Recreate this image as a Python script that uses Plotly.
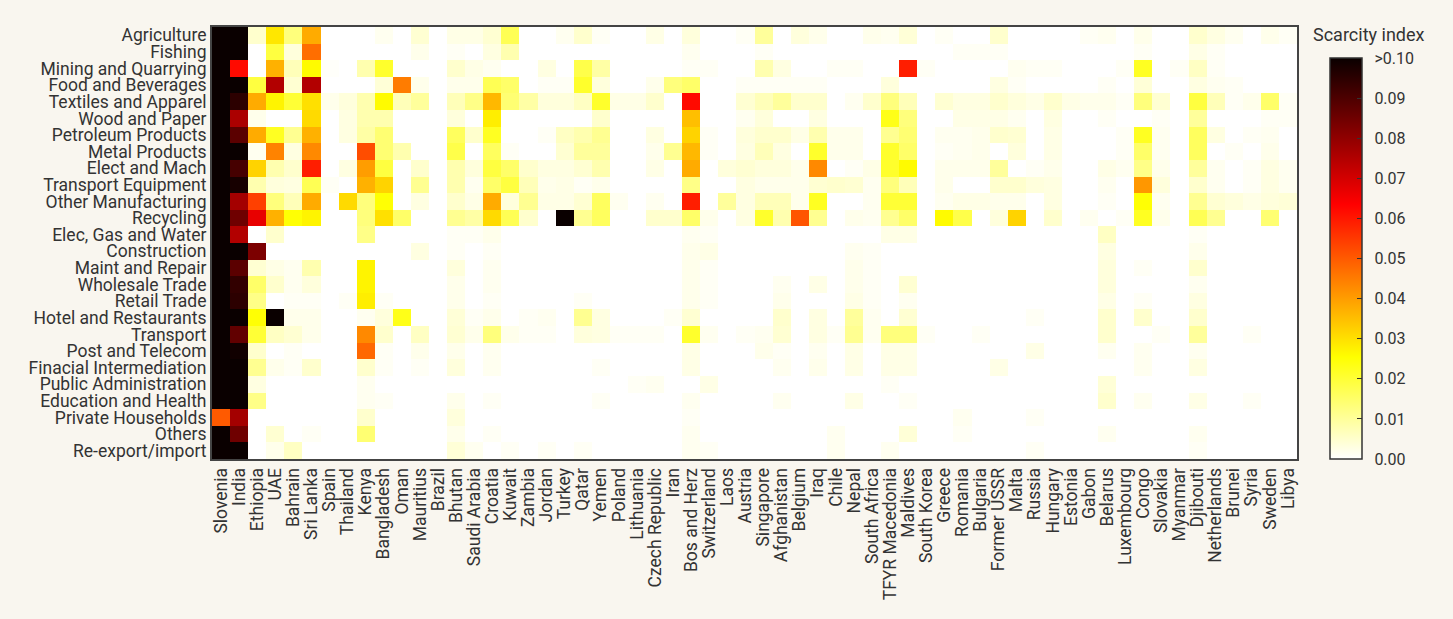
import plotly.graph_objects as go

# Sectors (rows, top to bottom) and countries (columns, left to right)
sectors = [
    "Agriculture", "Fishing", "Mining and Quarrying", "Food and Beverages",
    "Textiles and Apparel", "Wood and Paper", "Petroleum Products", "Metal Products",
    "Elect and Mach", "Transport Equipment", "Other Manufacturing", "Recycling",
    "Elec, Gas and Water", "Construction", "Maint and Repair", "Wholesale Trade",
    "Retail Trade", "Hotel and Restaurants", "Transport", "Post and Telecom",
    "Finacial Intermediation", "Public Administration", "Education and Health",
    "Private Households", "Others", "Re-export/import",
]

countries = [
    "Slovenia", "India", "Ethiopia", "UAE", "Bahrain", "Sri Lanka", "Spain", "Thailand",
    "Kenya", "Bangladesh", "Oman", "Mauritius", "Brazil", "Bhutan", "Saudi Arabia",
    "Croatia", "Kuwait", "Zambia", "Jordan", "Turkey", "Qatar", "Yemen", "Poland",
    "Lithuania", "Czech Republic", "Iran", "Bos and Herz", "Switzerland", "Laos",
    "Austria", "Singapore", "Afghanistan", "Belgium", "Iraq", "Chile", "Nepal",
    "South Africa", "TFYR Macedonia", "Maldives", "South Korea", "Greece", "Romania",
    "Bulgaria", "Former USSR", "Malta", "Russia", "Hungary", "Estonia", "Gabon",
    "Belarus", "Luxembourg", "Congo", "Slovakia", "Myanmar", "Djibouti", "Netherlands",
    "Brunei", "Syria", "Sweden", "Libya",
]

# Scarcity index per sector (one list per row, one value per country)
agriculture = [0.12, 0.12, 0.005, 0.029, 0.013, 0.038, 0, 0, 0, 0.0015, 0, 0.0045,
               0, 0.0025, 0.0025, 0.0045, 0.017, 0, 0, 0.0015, 0.005, 0.001, 0, 0,
               0.0025, 0, 0.0035, 0, 0, 0.001, 0.010, 0, 0.0035, 0.002, 0, 0,
               0.002, 0.0015, 0.004, 0, 0.001, 0, 0, 0.005, 0, 0, 0, 0,
               0.001, 0.0015, 0, 0.002, 0, 0, 0.005, 0.003, 0.0015, 0, 0.002, 0.001]
fishing = [0.12, 0.12, 0, 0.019, 0.0035, 0.047, 0, 0, 0, 0, 0, 0.002,
           0, 0.001, 0, 0.003, 0.008, 0, 0, 0, 0, 0, 0, 0,
           0, 0, 0.0015, 0, 0, 0, 0.001, 0, 0, 0, 0, 0,
           0, 0, 0, 0, 0, 0.001, 0.001, 0.001, 0, 0, 0, 0,
           0, 0, 0, 0.001, 0, 0, 0.0025, 0.001, 0, 0, 0, 0]
mining = [0.12, 0.062, 0, 0.037, 0.007, 0.026, 0.0005, 0, 0.008, 0.021, 0, 0,
          0, 0.005, 0.0025, 0.0015, 0, 0, 0.003, 0, 0.018, 0.009, 0, 0,
          0, 0, 0.001, 0.001, 0, 0, 0.008, 0.003, 0, 0, 0.001, 0.001,
          0, 0, 0.059, 0.001, 0, 0, 0, 0, 0.0015, 0.001, 0.001, 0,
          0, 0, 0.001, 0.022, 0, 0.001, 0.006, 0.001, 0, 0, 0, 0]
food = [0.12, 0.12, 0.019, 0.075, 0.0045, 0.075, 0, 0, 0, 0.004, 0.045, 0.002,
        0, 0.002, 0.002, 0.017, 0.015, 0, 0.001, 0.001, 0.021, 0.0035, 0, 0,
        0.002, 0.013, 0.015, 0, 0, 0.001, 0.001, 0.001, 0.001, 0.001, 0, 0,
        0, 0.0035, 0, 0, 0, 0, 0, 0.003, 0.001, 0, 0, 0,
        0, 0.001, 0, 0.004, 0, 0, 0.003, 0.0015, 0.001, 0, 0, 0]
textiles = [0.12, 0.095, 0.038, 0.027, 0.020, 0.030, 0.002, 0.0035, 0.008, 0.026, 0.007, 0.010,
            0, 0.007, 0.012, 0.036, 0.014, 0.009, 0.0035, 0.0035, 0.006, 0.021, 0.0025, 0.0025,
            0.005, 0, 0.062, 0, 0, 0.0045, 0.007, 0.010, 0.005, 0.005, 0, 0.0015,
            0.005, 0.013, 0.007, 0, 0.0045, 0.003, 0.003, 0.005, 0.0035, 0.0025, 0.005, 0.0025,
            0.002, 0.002, 0.001, 0.013, 0.0045, 0, 0.019, 0.007, 0.001, 0.002, 0.015, 0.001]
wood = [0.12, 0.076, 0.002, 0, 0, 0.031, 0, 0.003, 0.008, 0.008, 0, 0,
        0, 0.0035, 0, 0.028, 0, 0, 0, 0, 0, 0.005, 0, 0,
        0, 0, 0.035, 0, 0, 0.0015, 0.0035, 0, 0, 0.003, 0, 0,
        0, 0.023, 0.013, 0, 0, 0.0025, 0.0025, 0.0025, 0.0015, 0, 0.003, 0,
        0, 0.001, 0, 0, 0.001, 0, 0.010, 0, 0, 0, 0.001, 0.001]
petroleum = [0.12, 0.088, 0.038, 0.022, 0.011, 0.037, 0, 0.003, 0.009, 0.014, 0, 0,
             0, 0.016, 0.005, 0.022, 0, 0, 0.001, 0.006, 0.008, 0.011, 0, 0,
             0.003, 0, 0.032, 0.001, 0, 0.0035, 0.005, 0.005, 0.0025, 0.008, 0.002, 0.002,
             0, 0.011, 0.014, 0, 0.0015, 0.0015, 0.002, 0.005, 0.0045, 0, 0.0025, 0,
             0, 0, 0.001, 0.022, 0.0015, 0, 0.016, 0.003, 0, 0.001, 0.0015, 0]
metal = [0.12, 0.12, 0.0015, 0.044, 0.003, 0.043, 0, 0, 0.052, 0.014, 0.008, 0,
         0, 0.018, 0, 0.016, 0.001, 0, 0, 0.0045, 0.010, 0.010, 0, 0,
         0.002, 0.011, 0.036, 0.001, 0, 0.003, 0.007, 0.003, 0, 0.021, 0.002, 0.002,
         0, 0.021, 0.015, 0, 0.001, 0.0015, 0.002, 0, 0.0035, 0, 0.0025, 0,
         0, 0, 0.001, 0.015, 0.0015, 0, 0.016, 0, 0.001, 0, 0.002, 0]
elect = [0.12, 0.091, 0.032, 0.008, 0.005, 0.059, 0, 0.003, 0.040, 0.019, 0, 0.005,
         0, 0.008, 0.0035, 0.019, 0.015, 0.005, 0.003, 0.003, 0.0045, 0.008, 0, 0,
         0.0025, 0, 0.038, 0, 0.0035, 0.0045, 0.0035, 0.0035, 0.002, 0.043, 0, 0.001,
         0.0025, 0.021, 0.026, 0, 0.002, 0.002, 0.002, 0.010, 0, 0.001, 0.002, 0,
         0, 0.0025, 0.0015, 0.012, 0.002, 0, 0.010, 0.0015, 0, 0.001, 0.003, 0.0015]
transport_equip = [0.12, 0.098, 0.008, 0.0035, 0.003, 0.017, 0.001, 0, 0.037, 0.032, 0, 0.011,
                   0, 0.008, 0.0015, 0.015, 0.019, 0.007, 0.002, 0.0025, 0.001, 0.002, 0, 0,
                   0, 0, 0.012, 0, 0, 0.003, 0.002, 0.002, 0.002, 0.0045, 0.005, 0.0045,
                   0.0015, 0.013, 0.007, 0, 0.002, 0, 0, 0.005, 0.005, 0.0035, 0.003, 0,
                   0, 0.0015, 0, 0.041, 0.0035, 0, 0.005, 0.0015, 0, 0.001, 0.003, 0.0015]
other_manuf = [0.12, 0.077, 0.054, 0.013, 0.007, 0.038, 0, 0.031, 0.013, 0.025, 0, 0.003,
               0, 0.005, 0.0025, 0.038, 0.0035, 0.011, 0.0025, 0.0025, 0.0045, 0.016, 0.0015, 0,
               0.0015, 0, 0.059, 0, 0.010, 0.003, 0.007, 0.007, 0.002, 0.022, 0, 0,
               0.0015, 0.020, 0.020, 0, 0.0015, 0.0025, 0.0025, 0.002, 0.002, 0, 0.003, 0,
               0, 0.001, 0, 0.025, 0.0015, 0, 0.011, 0.0045, 0.0035, 0.0025, 0.0035, 0.004]
recycling = [0.12, 0.085, 0.067, 0.037, 0.025, 0.027, 0, 0, 0.013, 0.030, 0.015, 0,
             0, 0.011, 0.009, 0.031, 0.017, 0.005, 0, 0.12, 0.011, 0.016, 0, 0,
             0.005, 0.005, 0.015, 0.002, 0, 0.003, 0.021, 0.008, 0.051, 0.011, 0, 0.002,
             0.0015, 0.011, 0.015, 0, 0.026, 0.018, 0, 0.0035, 0.032, 0, 0.005, 0,
             0.0015, 0, 0.001, 0.022, 0.002, 0, 0.017, 0.011, 0, 0, 0.014, 0]
utilities = [0.12, 0.075, 0, 0.005, 0, 0, 0, 0, 0.012, 0, 0, 0,
             0, 0.001, 0.001, 0.002, 0, 0, 0, 0, 0, 0, 0, 0,
             0, 0, 0.0015, 0.001, 0, 0, 0, 0, 0, 0, 0, 0,
             0, 0.0025, 0.0025, 0, 0, 0, 0, 0, 0, 0, 0, 0,
             0, 0.006, 0, 0, 0, 0, 0.001, 0, 0, 0, 0, 0]
construction = [0.12, 0.12, 0.083, 0, 0, 0, 0, 0, 0, 0, 0, 0.003,
                0, 0.001, 0, 0.001, 0, 0, 0, 0, 0, 0, 0, 0,
                0, 0, 0.002, 0.0025, 0, 0, 0, 0, 0, 0, 0, 0.0015,
                0.001, 0, 0, 0, 0, 0, 0, 0, 0, 0, 0, 0,
                0, 0.003, 0, 0, 0, 0, 0.002, 0, 0, 0, 0, 0]
maint_repair = [0.12, 0.088, 0.0045, 0.0025, 0.0015, 0.008, 0, 0, 0.027, 0, 0, 0,
                0, 0.0035, 0, 0.0015, 0, 0, 0, 0, 0, 0, 0, 0,
                0, 0, 0.002, 0.001, 0, 0, 0, 0, 0, 0, 0, 0.002,
                0.001, 0, 0, 0, 0, 0, 0, 0, 0, 0, 0, 0,
                0, 0.0035, 0, 0.001, 0, 0, 0.005, 0, 0, 0, 0, 0]
wholesale = [0.12, 0.094, 0.015, 0.005, 0.0015, 0.0035, 0, 0, 0.027, 0, 0, 0,
             0, 0.002, 0, 0.0015, 0, 0, 0, 0, 0, 0, 0, 0,
             0, 0, 0.002, 0.001, 0, 0, 0, 0.0015, 0, 0.0025, 0, 0.002,
             0.001, 0, 0.0045, 0, 0, 0, 0, 0, 0, 0, 0, 0,
             0, 0.0035, 0, 0, 0, 0, 0.0015, 0, 0, 0, 0, 0]
retail = [0.12, 0.095, 0.012, 0, 0.001, 0.001, 0, 0.001, 0.028, 0.001, 0, 0,
          0, 0.002, 0, 0.001, 0, 0, 0, 0, 0.001, 0, 0, 0,
          0, 0, 0.002, 0.001, 0, 0, 0, 0.002, 0, 0, 0, 0.0025,
          0.001, 0, 0.0015, 0, 0, 0, 0, 0, 0, 0, 0, 0,
          0, 0.0025, 0, 0.001, 0, 0, 0.003, 0, 0, 0, 0, 0]
hotel = [0.12, 0.12, 0.025, 0.12, 0.002, 0.002, 0, 0, 0.0015, 0.0035, 0.023, 0,
         0, 0.004, 0.001, 0.002, 0, 0.001, 0.0015, 0, 0.011, 0.003, 0, 0,
         0, 0.001, 0.0045, 0, 0, 0, 0, 0.005, 0, 0.003, 0, 0.010,
         0.0015, 0, 0.0045, 0, 0, 0, 0, 0, 0, 0.001, 0, 0,
         0, 0.005, 0, 0.005, 0, 0, 0.005, 0, 0, 0, 0, 0]
transport = [0.12, 0.087, 0.020, 0.006, 0.0045, 0.002, 0, 0, 0.043, 0.005, 0, 0.006,
             0, 0.0045, 0.002, 0.013, 0.002, 0.001, 0.001, 0, 0.0035, 0.003, 0.001, 0.001,
             0.001, 0, 0.021, 0.0015, 0, 0.001, 0.0015, 0.0045, 0, 0.003, 0.001, 0.011,
             0.0015, 0.013, 0.013, 0.001, 0, 0, 0.001, 0, 0, 0, 0, 0,
             0, 0.005, 0, 0, 0.001, 0, 0.010, 0, 0, 0.001, 0, 0]
post_telecom = [0.12, 0.099, 0.005, 0, 0.001, 0, 0, 0, 0.048, 0.001, 0, 0.002,
                0, 0.002, 0, 0.0015, 0, 0, 0, 0, 0, 0, 0, 0,
                0, 0, 0.0025, 0, 0, 0, 0.002, 0.001, 0, 0.0015, 0, 0.0025,
                0, 0.0025, 0.0025, 0, 0, 0, 0, 0, 0, 0.0025, 0, 0,
                0, 0.0015, 0, 0.0015, 0, 0, 0.0015, 0, 0, 0, 0, 0]
financial = [0.12, 0.12, 0.011, 0.002, 0.001, 0.005, 0, 0, 0.005, 0.001, 0, 0.001,
             0, 0.0035, 0, 0.0015, 0, 0, 0, 0, 0, 0.001, 0, 0,
             0, 0, 0.0025, 0, 0, 0, 0, 0.0015, 0, 0.002, 0, 0.0025,
             0, 0.0025, 0.0025, 0, 0, 0, 0, 0.0025, 0, 0, 0, 0,
             0, 0, 0, 0.0015, 0, 0, 0.003, 0, 0, 0, 0, 0]
public_admin = [0.12, 0.12, 0.003, 0, 0, 0, 0, 0, 0.0015, 0, 0, 0,
                0, 0, 0, 0, 0, 0, 0, 0, 0, 0, 0, 0.001,
                0.0015, 0, 0, 0.0025, 0, 0, 0, 0, 0, 0, 0, 0,
                0, 0.001, 0, 0, 0, 0, 0, 0, 0, 0, 0, 0,
                0, 0.004, 0, 0, 0, 0, 0, 0, 0, 0, 0, 0]
education = [0.12, 0.12, 0.012, 0, 0, 0, 0, 0, 0.0015, 0.001, 0, 0,
             0, 0.002, 0, 0.001, 0, 0, 0, 0, 0, 0.001, 0, 0,
             0, 0, 0.0015, 0, 0, 0, 0, 0.0015, 0, 0, 0, 0.0025,
             0, 0, 0.001, 0, 0, 0, 0, 0, 0, 0, 0, 0,
             0, 0.005, 0, 0.0015, 0, 0, 0.0025, 0, 0, 0.001, 0, 0]
households = [0.050, 0.077, 0, 0, 0, 0, 0, 0, 0.005, 0, 0, 0,
              0, 0.0035, 0, 0, 0, 0, 0, 0, 0, 0, 0, 0,
              0, 0, 0.001, 0, 0, 0, 0, 0, 0, 0, 0, 0,
              0, 0, 0, 0, 0, 0.0015, 0, 0, 0, 0.001, 0, 0,
              0, 0, 0, 0, 0, 0, 0, 0, 0, 0, 0, 0]
others = [0.12, 0.085, 0, 0.0045, 0, 0.001, 0, 0, 0.014, 0, 0, 0,
          0, 0.002, 0, 0.001, 0, 0, 0, 0, 0, 0, 0, 0,
          0, 0, 0.0015, 0, 0, 0, 0, 0, 0, 0, 0.0015, 0,
          0, 0, 0.004, 0, 0, 0.001, 0, 0, 0, 0, 0, 0,
          0, 0.0015, 0, 0, 0, 0, 0.0015, 0, 0, 0, 0, 0]
reexport = [0.12, 0.12, 0, 0.002, 0.006, 0, 0, 0, 0, 0, 0, 0,
            0, 0.004, 0.0015, 0, 0.001, 0, 0.001, 0, 0.001, 0, 0, 0,
            0, 0, 0.0015, 0.001, 0, 0, 0, 0, 0, 0, 0.0015, 0,
            0, 0.0015, 0, 0, 0, 0, 0, 0, 0, 0.001, 0, 0,
            0, 0, 0, 0, 0, 0, 0.001, 0, 0, 0, 0, 0]

scarcity = [agriculture, fishing, mining, food, textiles, wood, petroleum, metal,
            elect, transport_equip, other_manuf, recycling, utilities, construction,
            maint_repair, wholesale, retail, hotel, transport, post_telecom, financial,
            public_admin, education, households, others, reexport]

colorbar_ticks = [0.0, 0.01, 0.02, 0.03, 0.04, 0.05, 0.06, 0.07, 0.08, 0.09, 0.10]
colorbar_labels = ["0.00", "0.01", "0.02", "0.03", "0.04", "0.05",
                   "0.06", "0.07", "0.08", "0.09", ">0.10"]

# reversed "hot" colormap: white -> yellow -> red -> black
hot_r = [
    [0.0, "rgb(255,255,255)"],
    [0.254, "rgb(255,255,0)"],
    [0.635, "rgb(255,0,0)"],
    [1.0, "rgb(10,0,0)"],
]

FONT = "Roboto, 'Open Sans', sans-serif"
TEXT = "#333333"
BG = "#f9f6ef"

W, H = 1453, 619
L, R, T, B = 212, 156, 27, 160
plot_w = W - L - R
plot_h = H - T - B

# small gap between the colour bar and its labels
PAD = "\u00a0\u00a0"

fig = go.Figure(
    go.Heatmap(
        z=scarcity,
        x=countries,
        y=sectors,
        zmin=0,
        zmax=0.1,
        colorscale=hot_r,
        xgap=0,
        ygap=0,
        colorbar=dict(
            x=(1330 - L) / plot_w,
            xanchor="left",
            xpad=0,
            y=0,
            yanchor="bottom",
            ypad=0,
            len=401 / plot_h,
            lenmode="fraction",
            thickness=32,
            outlinewidth=1.5,
            outlinecolor=TEXT,
            ticks="inside",
            ticklen=5,
            tickwidth=1,
            tickcolor=TEXT,
            tickvals=colorbar_ticks,
            ticktext=[PAD + t for t in colorbar_labels],
            tickfont=dict(family=FONT, size=16, color=TEXT),
        ),
        hovertemplate="%{y}<br>%{x}<br>%{z}<extra></extra>",
    )
)

axis_common = dict(
    showline=True,
    mirror=True,
    linecolor="#444444",
    linewidth=2,
    ticks="",
    showgrid=False,
    zeroline=False,
    tickmode="array",
    tickfont=dict(family=FONT, size=17.5, color=TEXT),
)

fig.update_layout(
    width=W,
    height=H,
    margin=dict(l=L, r=R, t=T, b=B),
    paper_bgcolor=BG,
    plot_bgcolor="white",
    font=dict(family=FONT, color=TEXT),
    xaxis=dict(tickangle=-90, tickvals=countries, ticktext=countries, **axis_common),
    yaxis=dict(autorange="reversed", tickvals=sectors, ticktext=sectors, **axis_common),
    annotations=[
        dict(
            text="Scarcity index",
            x=(1369 - L) / plot_w,
            y=(H - B - 35) / plot_h,
            xref="paper",
            yref="paper",
            xanchor="center",
            yanchor="middle",
            showarrow=False,
            font=dict(family=FONT, size=18, color=TEXT),
        )
    ],
)

fig.write_html("out.html")
